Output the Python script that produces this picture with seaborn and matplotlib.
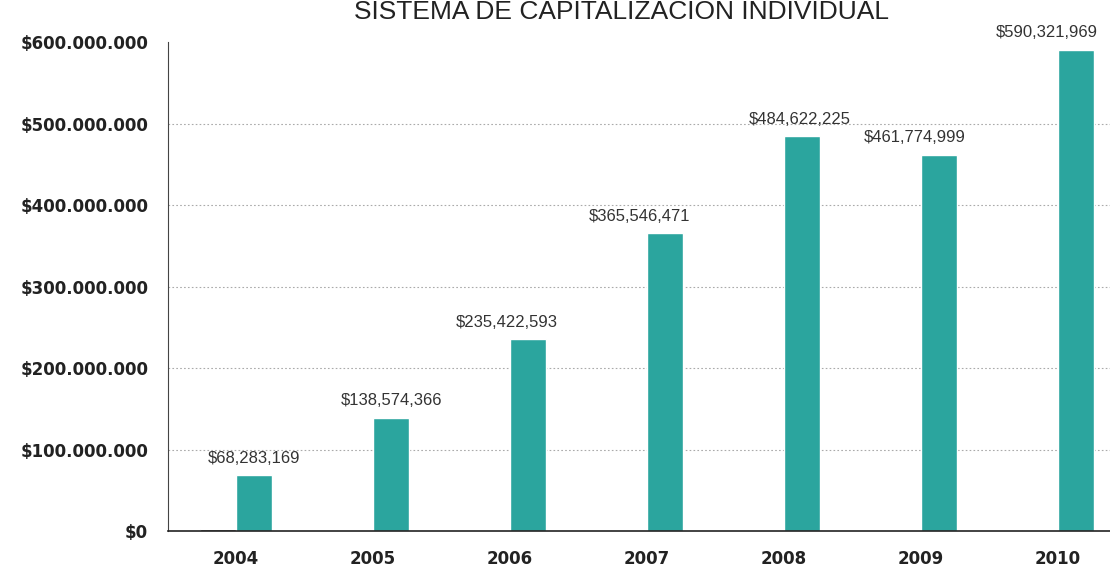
import pandas as pd
import matplotlib.pyplot as plt
import matplotlib.ticker as mticker
import seaborn as sns

# data
years = ["2004", "2005", "2006", "2007", "2008", "2009", "2010"]
capitalizacion = [68283169, 138574366, 235422593, 365546471, 484622225, 461774999, 590321969]
# thin dark series sitting on the baseline next to each teal bar
reparto = [2500000, 1800000, 1800000, 1800000, 1800000, 1800000, 1800000]
ytick_vals = [0, 100000000, 200000000, 300000000, 400000000, 500000000, 600000000]

df = pd.DataFrame({
    "Año": years * 2,
    "Monto": reparto + capitalizacion,
    "Serie": ["Reparto"] * len(years) + ["Capitalización"] * len(years),
})

sns.set_style("white")
plt.rcParams['font.family'] = ['DejaVu Sans']

fig = plt.figure(figsize=(11.1, 5.71), dpi=100)
ax = fig.add_axes([0.151, 0.070, 0.864, 0.856])

sns.barplot(data=df, x="Año", y="Monto", hue="Serie",
            palette=["#1a1a1a", "#2BA59E"], width=0.53, gap=0,
            saturation=1, legend=False, ax=ax)

ax.set_ylim(0, 600000000)
ax.set_xlim(-0.5, 6.5)
ax.set_yticks(ytick_vals)
ax.yaxis.set_major_formatter(mticker.FuncFormatter(
    lambda v, p: "$" + f"{int(v):,}".replace(",", ".")))
ax.set_xlabel("")
ax.set_ylabel("")

for lab in ax.get_yticklabels():
    lab.set_fontweight("bold")
    lab.set_fontsize(12)
    lab.set_color("#222222")
for lab in ax.get_xticklabels():
    lab.set_fontweight("bold")
    lab.set_fontsize(12)
    lab.set_color("#222222")

ax.tick_params(axis="y", length=4, width=0.8, color="#444444", pad=10)
ax.tick_params(axis="x", length=0, pad=14)
ax.set_xticks([i + 0.5 for i in range(6)], minor=True)
ax.tick_params(axis="x", which="minor", length=4, direction="inout", color="#444444")

# dotted grid
for v in ytick_vals[1:-1]:
    ax.axhline(v, color="#aaaaaa", lw=0.8, ls=(0, (1.5, 2)), zorder=0)

sns.despine(ax=ax, top=True, right=True)
ax.spines["left"].set_color("#444444")
ax.spines["left"].set_linewidth(0.8)
ax.spines["bottom"].set_color("#222222")
ax.spines["bottom"].set_linewidth(1.2)

# value labels on the teal bars (some sit a bit left of their bar in the scan)
teal = ax.containers[1]
anns = ax.bar_label(teal, labels=["$" + f"{v:,}" for v in capitalizacion],
                    padding=7, fontsize=12, color="#333333", clip_on=False,
                    family="Liberation Sans")
shift_px = [0, 0, -22, -26, -3, -25, -30]
for a, dx in zip(anns, shift_px):
    a.xyann = (dx * 0.72, 7)

fig.text(0.56, 1.0, "SISTEMA DE CAPITALIZACIÓN INDIVIDUAL",
         ha="center", va="top", fontsize=19, color="#222222",
         family="Liberation Sans")

fig.savefig("out.png", dpi=100)
